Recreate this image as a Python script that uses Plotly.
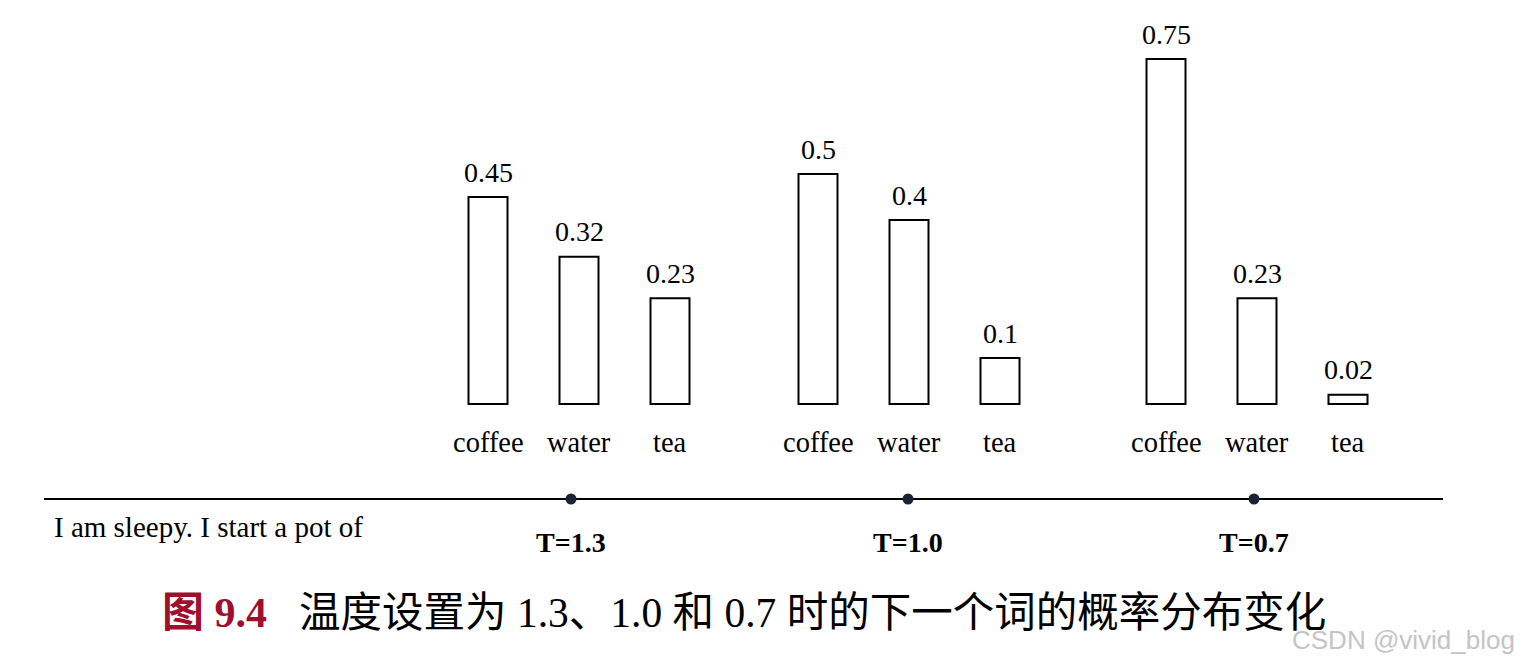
import plotly.graph_objects as go

# ---- data ----
words = ["coffee", "water", "tea"]
temperatures = ["T=1.3", "T=1.0", "T=0.7"]
probs_t13 = [0.45, 0.32, 0.23]
probs_t10 = [0.5, 0.4, 0.1]
probs_t07 = [0.75, 0.23, 0.02]
prompt_text = "I am sleepy. I start a pot of"
caption_label = "图 9.4"
caption_text = "温度设置为 1.3、1.0 和 0.7 时的下一个词的概率分布变化"
watermark = "CSDN @vivid_blog"

series = [probs_t13, probs_t10, probs_t07]

# ---- layout constants (pixel-like coordinate system) ----
W, H = 1522, 668
OFF = 8  # page body margin
PX_PER_UNIT = 460.0
BASE_PX = 404  # pixel row of y=0 from top of window
group_centers = [579, 909, 1257]
bar_spacing = 91
bar_width = 39
dot_x = [571, 908, 1254]
timeline_y = (BASE_PX - 499) / PX_PER_UNIT
SERIF = "Liberation Serif, Times New Roman, serif"
CAPFONT = SERIF + ", Noto Sans CJK SC"


def px(xp):
    return (xp - OFF) / W


def py(yp):
    return 1 - (yp - OFF) / H


fig = go.Figure()

annotations = []
for g, vals in enumerate(series):
    xs = [group_centers[g] + (i - 1) * bar_spacing for i in range(len(words))]
    fig.add_trace(go.Bar(
        x=xs, y=vals, width=bar_width,
        marker=dict(color="white", line=dict(color="black", width=2)),
        showlegend=False, hoverinfo="skip",
    ))
    for x, v, w in zip(xs, vals, words):
        annotations.append(dict(x=x, y=v, text=f"{v:g}", showarrow=False,
                                xanchor="center", yanchor="middle", yshift=25,
                                font=dict(family=SERIF, size=28, color="black")))
        annotations.append(dict(x=x, y=0, text=w, showarrow=False,
                                xanchor="center", yanchor="middle", yshift=-38,
                                font=dict(family=SERIF, size=28.5, color="black")))

# timeline
fig.add_trace(go.Scatter(
    x=[44, 1443], y=[timeline_y, timeline_y], mode="lines",
    line=dict(color="black", width=2), showlegend=False, hoverinfo="skip",
))
fig.add_trace(go.Scatter(
    x=dot_x, y=[timeline_y] * len(dot_x), mode="markers",
    marker=dict(color="#1b2235", size=11), showlegend=False, hoverinfo="skip",
))
for x, t in zip(dot_x, temperatures):
    annotations.append(dict(x=x, y=timeline_y, text=f"<b>{t}</b>", showarrow=False,
                            xanchor="center", yanchor="middle", yshift=-43,
                            font=dict(family=SERIF, size=28, color="black")))

annotations.append(dict(x=52, y=timeline_y, text=prompt_text, showarrow=False,
                        xanchor="left", yanchor="middle", yshift=-28,
                        font=dict(family=SERIF, size=29, color="black")))

# caption
annotations.append(dict(xref="paper", yref="paper", x=px(160), y=py(613),
                        text=f"<b>{caption_label}</b>", showarrow=False,
                        xanchor="left", yanchor="middle",
                        font=dict(family=CAPFONT, size=42, color="#a0102e")))
annotations.append(dict(xref="paper", yref="paper", x=px(297), y=py(613),
                        text=caption_text, showarrow=False,
                        xanchor="left", yanchor="middle",
                        font=dict(family=CAPFONT, size=41.5, color="black")))
annotations.append(dict(xref="paper", yref="paper", x=px(1517), y=py(640),
                        text=watermark, showarrow=False,
                        xanchor="right", yanchor="middle",
                        font=dict(family="Liberation Sans, Arial, sans-serif", size=26, color="#c4c4c4")))

# pixel mapping with page offset
y_bottom = -(H + OFF - BASE_PX) / PX_PER_UNIT
y_top = (BASE_PX - OFF) / PX_PER_UNIT

fig.update_layout(
    width=W, height=H,
    margin=dict(l=0, r=0, t=0, b=0),
    paper_bgcolor="white", plot_bgcolor="white",
    xaxis=dict(range=[OFF, W + OFF], visible=False, fixedrange=True),
    yaxis=dict(range=[y_bottom, y_top], visible=False, fixedrange=True),
    annotations=annotations,
    barmode="overlay",
    showlegend=False,
)

fig.write_html("out.html", include_plotlyjs=True, config={"displayModeBar": False})
